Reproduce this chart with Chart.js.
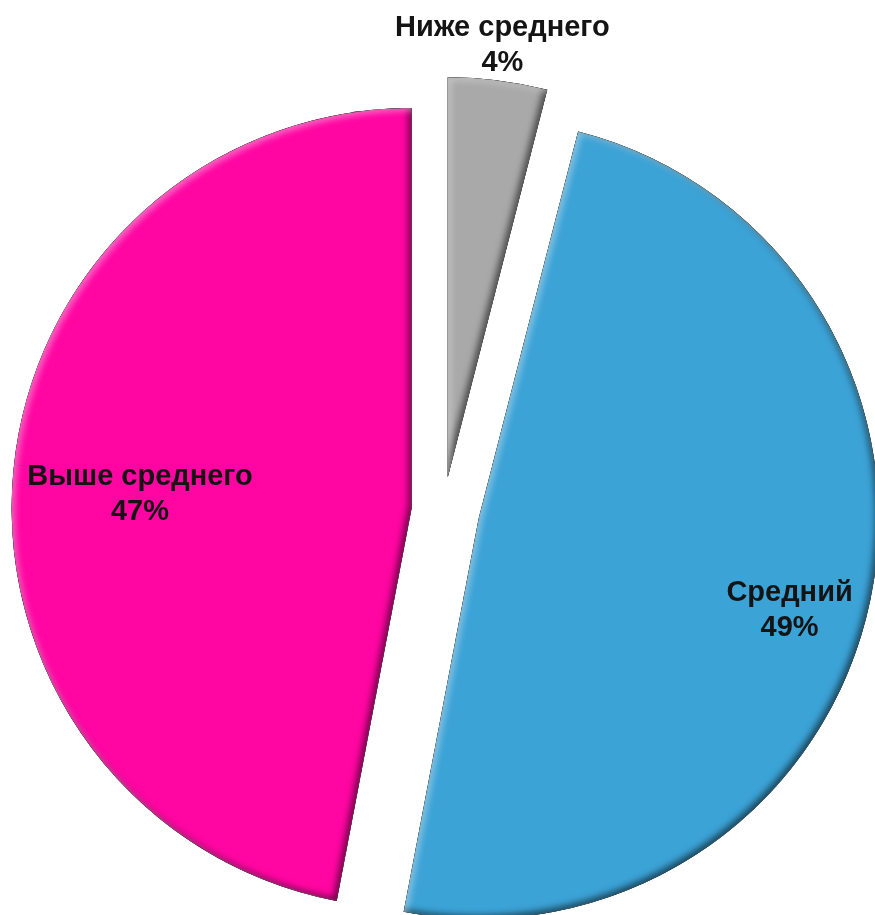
<!DOCTYPE html>
<html>
<head>
<meta charset="utf-8">
<script src="https://cdn.jsdelivr.net/npm/chart.js@4/dist/chart.umd.min.js"></script>
<style>
  html, body { margin: 0; padding: 0; background: #ffffff; }
  #wrap { width: 875px; height: 915px; }
</style>
</head>
<body>
<div id="wrap"><canvas id="pieChart" width="875" height="915"></canvas></div>
<script>
// --- Chart data ---
const categories = ['Ниже среднего', 'Средний', 'Выше среднего'];
const shares = [4, 49, 47];
const sliceColors = ['#A9A9A9', '#3CA3D7', '#FF06A2'];

// pixels each slice is pulled out from the centre
const explode = [34, 36, 32];
// label placement: fraction of radius along the slice, and small angle nudge (deg)
const labelRadius = [1.09, 0.81, 0.68];
const labelNudge = [0, 3.7, -2.4];

function slicePath(ctx, x, y, r, a0, a1) {
    ctx.beginPath();
    ctx.moveTo(x, y);
    ctx.arc(x, y, r, a0, a1);
    ctx.closePath();
}

// --- Plugin: pull slices out (same radius for every slice) ---
const explodePlugin = {
    id: 'explode',
    beforeDatasetsDraw(chart) {
        const area = chart.chartArea;
        const cx = (area.left + area.right) / 2;
        const cy = (area.top + area.bottom) / 2;
        chart.getDatasetMeta(0).data.forEach(function(arc, i) {
            const mid = (arc.startAngle + arc.endAngle) / 2;
            arc.x = cx + Math.cos(mid) * explode[i];
            arc.y = cy + Math.sin(mid) * explode[i];
        });
    }
};

// --- Plugin: bevel shading on each slice ---
const bevelPlugin = {
    id: 'bevel',
    afterDatasetsDraw(chart) {
        const ctx = chart.ctx;
        chart.getDatasetMeta(0).data.forEach(function(arc) {
            const x = arc.x, y = arc.y, r = arc.outerRadius;
            const passes = [
                { color: 'rgba(0,0,0,0.6)', ox: -3, oy: -3, blur: 7 },
                { color: 'rgba(255,255,255,0.4)', ox: 3, oy: 3, blur: 6 }
            ];
            passes.forEach(function(p) {
                ctx.save();
                slicePath(ctx, x, y, r, arc.startAngle, arc.endAngle);
                ctx.clip();
                ctx.beginPath();
                ctx.rect(-2000, -2000, 5000, 5000);
                ctx.moveTo(x, y);
                ctx.arc(x, y, r, arc.startAngle, arc.endAngle);
                ctx.closePath();
                ctx.shadowColor = p.color;
                ctx.shadowBlur = p.blur;
                ctx.shadowOffsetX = p.ox;
                ctx.shadowOffsetY = p.oy;
                ctx.fillStyle = '#000';
                ctx.fill('evenodd');
                ctx.restore();
            });
        });
    }
};

// --- Plugin: two-line labels (name + percent) ---
const labelPlugin = {
    id: 'sliceLabels',
    afterDraw(chart) {
        const ctx = chart.ctx;
        ctx.save();
        ctx.font = 'bold 29px "Liberation Sans", Arial, sans-serif';
        ctx.fillStyle = '#141414';
        ctx.textAlign = 'center';
        ctx.textBaseline = 'middle';
        chart.getDatasetMeta(0).data.forEach(function(arc, i) {
            const ang = (arc.startAngle + arc.endAngle) / 2 + labelNudge[i] * Math.PI / 180;
            const rr = arc.outerRadius * labelRadius[i];
            const cx = arc.x + Math.cos(ang) * rr;
            const cy = arc.y + Math.sin(ang) * rr;
            ctx.fillText(categories[i], cx, cy - 17);
            ctx.fillText(shares[i] + '%', cx, cy + 18);
        });
        ctx.restore();
    }
};

function renderChart() {
    const ctx = document.getElementById('pieChart').getContext('2d');
    new Chart(ctx, {
        type: 'pie',
        data: {
            labels: categories,
            datasets: [{
                data: shares,
                backgroundColor: sliceColors,
                borderWidth: 0
            }]
        },
        options: {
            responsive: false,
            animation: false,
            devicePixelRatio: 1,
            radius: 400,
            layout: { padding: { left: 12, right: 0, top: 107, bottom: 0 } },
            plugins: {
                legend: { display: false },
                tooltip: { enabled: false }
            }
        },
        plugins: [explodePlugin, bevelPlugin, labelPlugin]
    });
}

document.addEventListener('DOMContentLoaded', renderChart);
</script>
</body>
</html>
